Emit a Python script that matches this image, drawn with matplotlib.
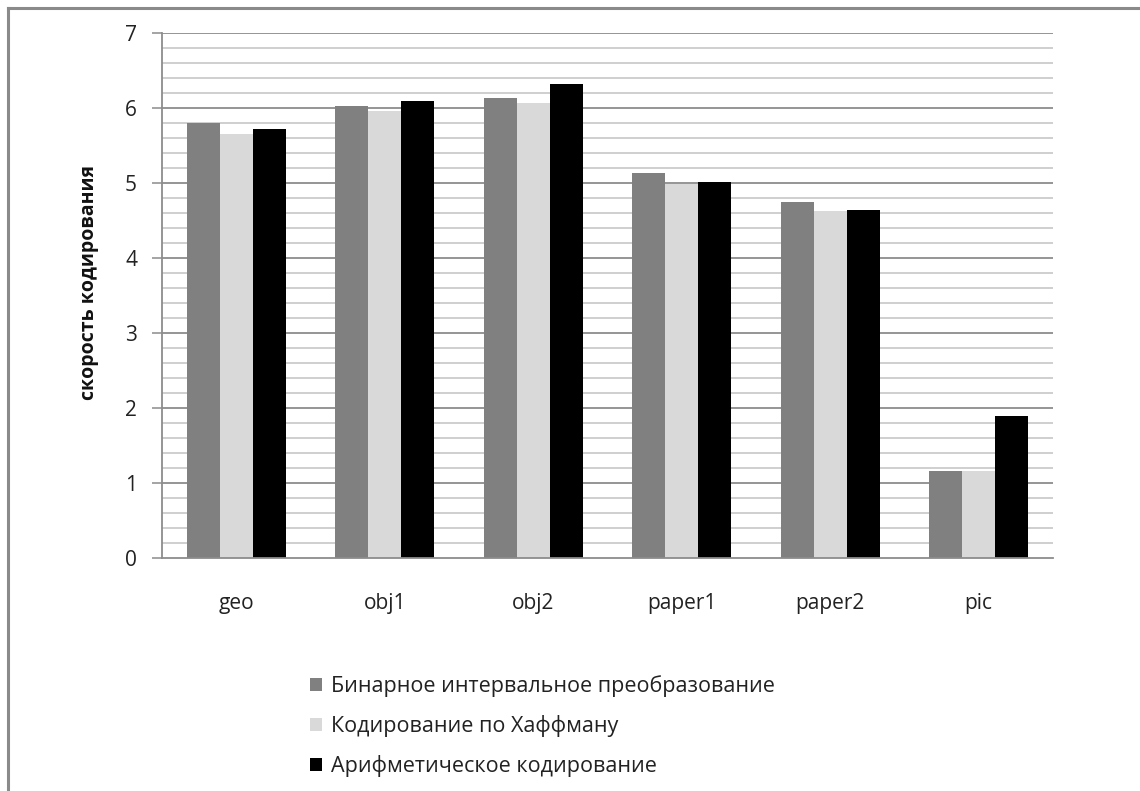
import numpy as np
import matplotlib
matplotlib.use("Agg")
import matplotlib.pyplot as plt
from matplotlib.patches import Patch
from matplotlib.lines import Line2D

plt.rcParams['font.family'] = ['Open Sans', 'DejaVu Sans']

files = ["geo", "obj1", "obj2", "paper1", "paper2", "pic"]
binary_interval = [5.80, 6.03, 6.13, 5.14, 4.75, 1.16]
huffman = [5.65, 5.96, 6.07, 4.98, 4.63, 1.16]
arithmetic = [5.72, 6.10, 6.32, 5.02, 4.64, 1.89]

series_names = ["Бинарное интервальное преобразование",
                "Кодирование по Хаффману",
                "Арифметическое кодирование"]
series_colors = ["#808080", "#d9d9d9", "#000000"]
y_ticks = [0, 1, 2, 3, 4, 5, 6, 7]
y_label = "скорость кодирования"

W, H = 1140, 791
fig = plt.figure(figsize=(W / 100, H / 100), dpi=100)
fig.patch.set_facecolor("white")

# frame around the chart (top and left edges)
border_color = "#8a8a8a"
fig.add_artist(Line2D([8 / W, 1.0], [1 - 8 / H, 1 - 8 / H], transform=fig.transFigure,
                      color=border_color, lw=2.2))
fig.add_artist(Line2D([8 / W, 8 / W], [0.0, 1 - 8 / H], transform=fig.transFigure,
                      color=border_color, lw=2.2))

ax_left, ax_right, ax_top, ax_bottom = 162, 1053, 33, 558
ax = fig.add_axes([ax_left / W, 1 - ax_bottom / H,
                   (ax_right - ax_left) / W, (ax_bottom - ax_top) / H])

x = np.arange(len(files))
bar_w = 0.222
for i, (vals, col, name) in enumerate(zip([binary_interval, huffman, arithmetic],
                                          series_colors, series_names)):
    ax.bar(x + (i - 1) * bar_w, vals, width=bar_w, color=col, edgecolor="none",
           label=name, zorder=3)

ax.set_xlim(-0.5, len(files) - 0.5)
ax.set_ylim(0, 7)

# horizontal grid: major every 1, minor every 0.2
for v in np.arange(0.2, 7.01, 0.2):
    is_major = abs(v - round(v)) < 1e-6
    ax.axhline(v, color="#8c8c8c" if is_major else "#cfcfcf",
               lw=1.3 if is_major else 1.4, zorder=1)

for s in ["top", "right"]:
    ax.spines[s].set_visible(False)
for s in ["left", "bottom"]:
    ax.spines[s].set_color("#8c8c8c")
    ax.spines[s].set_linewidth(1.3)
    ax.spines[s].set_zorder(4)

ax.set_yticks(y_ticks)
ax.set_yticklabels([str(t) for t in y_ticks])
ax.tick_params(axis="y", direction="out", length=7, width=1.1, color="#8c8c8c",
               pad=11, labelsize=15, labelcolor="#222222")
ax.set_xticks(x)
ax.set_xticklabels(files)
ax.tick_params(axis="x", length=0, pad=25, labelsize=15, labelcolor="#222222")

fig.text(89 / W, 1 - 283 / H, y_label, rotation=90, ha="center", va="center",
         fontsize=14, fontweight="bold", color="#111111")

handles = [Patch(facecolor=c, edgecolor="none") for c in series_colors]
fig.legend(handles, series_names, loc="upper left",
           bbox_to_anchor=(310 / W, 1 - 675 / H), frameon=False,
           fontsize=15.5, handlelength=0.56, handleheight=0.56, handletextpad=0.42,
           labelspacing=0.84, borderaxespad=0, borderpad=0, labelcolor="#222222")

fig.savefig("out.png", dpi=100, facecolor="white")
